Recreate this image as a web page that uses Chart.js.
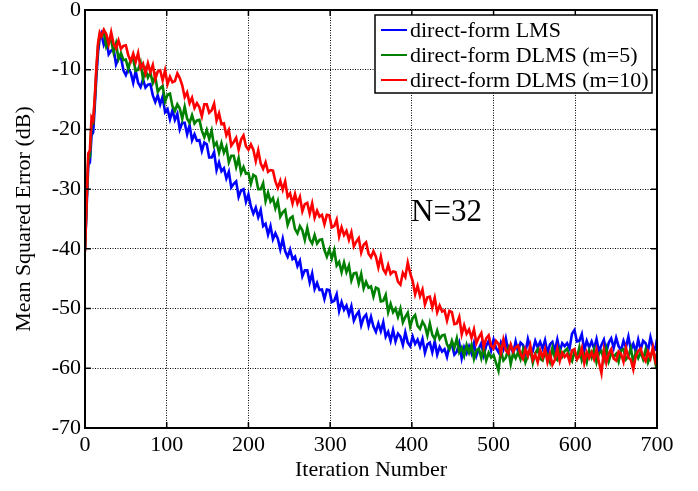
<!DOCTYPE html>
<html><head><meta charset="utf-8">
<script src="https://cdn.jsdelivr.net/npm/chart.js@4.4.0/dist/chart.umd.min.js"></script>
<style>html,body{margin:0;padding:0;background:#fff;}canvas{display:block;}</style>
</head><body>
<canvas id="c" width="698" height="491"></canvas>
<script>
const iterations = [
  0,2,4,6,8,10,12,14,16,18,
  20,23,26,29,32,35,38,41,44,47,
  50,53,56,59,62,65,68,71,74,77,
  80,83,86,89,92,95,98,101,104,107,
  110,113,116,119,122,125,128,131,134,137,
  140,143,146,149,152,155,158,161,164,167,
  170,173,176,179,182,185,188,191,194,197,
  200,203,206,209,212,215,218,221,224,227,
  230,233,236,239,242,245,248,251,254,257,
  260,263,266,269,272,275,278,281,284,287,
  290,293,296,299,302,305,308,311,314,317,
  320,323,326,329,332,335,338,341,344,347,
  350,353,356,359,362,365,368,371,374,377,
  380,383,386,389,392,395,398,401,404,407,
  410,413,416,419,422,425,428,431,434,437,
  440,443,446,449,452,455,458,461,464,467,
  470,473,476,479,482,485,488,491,494,497,
  500,503,506,509,512,515,518,521,524,527,
  530,533,536,539,542,545,548,551,554,557,
  560,563,566,569,572,575,578,581,584,587,
  590,593,596,599,602,605,608,611,614,617,
  620,623,626,629,632,635,638,641,644,647,
  650,653,656,659,662,665,668,671,674,677,
  680,683,686,689,692,695,698,700
];
const lmsMSE = [
  -40.0,-33.0,-26.0,-25.5,-21.0,-20.5,-16.0,-11.0,-7.0,-4.8,
  -4.0,-5.8,-4.7,-7.4,-6.8,-6.5,-9.1,-8.1,-7.9,-10.1,
  -10.9,-9.8,-10.5,-12.2,-10.2,-12.2,-12.9,-11.6,-13.0,-12.5,
  -12.4,-14.3,-15.4,-14.3,-15.8,-14.5,-17.1,-16.6,-18.3,-16.8,
  -18.4,-17.4,-20.0,-18.9,-18.9,-20.8,-19.3,-21.8,-20.8,-21.9,
  -21.8,-23.6,-22.2,-22.5,-24.7,-24.7,-23.8,-26.8,-25.5,-27.0,
  -26.5,-28.2,-27.1,-29.7,-29.1,-28.7,-31.3,-30.2,-30.0,-32.1,
  -30.9,-32.9,-34.1,-33.1,-34.7,-33.5,-36.2,-35.8,-37.6,-36.2,
  -38.4,-37.4,-38.3,-40.1,-38.3,-40.4,-41.3,-40.1,-41.7,-41.3,
  -42.9,-42.0,-44.6,-43.6,-43.6,-45.6,-44.1,-46.7,-45.7,-46.9,
  -46.8,-48.4,-46.8,-46.9,-48.9,-48.7,-47.6,-50.4,-48.9,-50.2,
  -49.5,-51.0,-49.6,-52.0,-51.1,-50.5,-52.8,-51.5,-51.0,-52.9,
  -51.4,-53.0,-53.9,-52.5,-53.8,-52.3,-54.7,-53.9,-55.4,-53.6,
  -55.5,-54.2,-54.7,-56.1,-54.0,-55.7,-56.3,-54.7,-55.9,-55.2,
  -56.4,-55.1,-57.4,-56.0,-55.7,-57.3,-55.5,-57.7,-56.4,-57.2,
  -56.8,-58.1,-56.2,-56.0,-57.7,-57.2,-55.8,-58.3,-56.5,-57.5,
  -56.3,-57.5,-55.8,-57.9,-56.7,-55.8,-57.8,-56.2,-55.4,-57.0,
  -55.2,-56.6,-57.3,-55.7,-56.8,-55.0,-57.2,-56.2,-57.5,-55.5,
  -57.2,-55.7,-56.1,-57.4,-55.1,-56.7,-57.1,-55.4,-56.5,-55.6,
  -56.7,-55.3,-57.5,-56.0,-55.6,-57.1,-55.2,-57.2,-55.8,-56.3,
  -55.8,-56.7,-54.2,-53.6,-55.5,-55.4,-54.3,-57.0,-55.4,-56.5,
  -55.5,-56.7,-55.1,-57.2,-56.1,-55.2,-57.3,-55.7,-55.0,-56.6,
  -54.9,-56.3,-57.0,-55.4,-56.5,-54.7,-56.9,-55.9,-57.2,-55.2,
  -56.9,-55.4,-55.8,-57.1,-54.8,-56.4,-56.8,-55.1
];
const dlms5MSE = [
  -40.0,-32.0,-25.0,-24.5,-19.0,-19.0,-15.0,-10.0,-6.0,-4.2,
  -4.4,-3.6,-6.1,-5.1,-5.1,-7.1,-5.6,-8.2,-7.2,-8.4,
  -8.3,-9.9,-8.2,-8.3,-10.2,-10.0,-8.8,-11.6,-10.0,-11.3,
  -10.5,-12.2,-11.1,-13.7,-13.1,-12.7,-15.3,-14.2,-14.0,-16.1,
  -16.9,-15.8,-16.5,-18.2,-16.2,-18.2,-18.9,-17.6,-19.0,-18.5,
  -18.4,-20.2,-21.3,-20.1,-21.6,-20.2,-22.8,-22.2,-23.9,-22.3,
  -23.9,-22.9,-25.5,-24.4,-24.4,-26.3,-24.8,-27.3,-26.3,-27.4,
  -27.3,-29.1,-27.6,-27.9,-30.0,-30.0,-29.0,-32.0,-30.6,-32.1,
  -31.5,-33.2,-32.0,-34.6,-33.9,-33.5,-36.0,-34.9,-34.6,-36.7,
  -37.4,-36.2,-36.9,-38.5,-36.5,-38.4,-39.1,-37.7,-39.1,-38.5,
  -38.4,-40.2,-41.3,-40.1,-41.6,-40.2,-42.8,-42.2,-43.9,-42.3,
  -43.9,-42.8,-45.3,-44.1,-44.0,-45.8,-44.2,-46.6,-45.5,-46.5,
  -46.3,-48.0,-46.5,-46.7,-48.8,-48.7,-47.7,-50.6,-49.2,-50.6,
  -50.0,-51.4,-50.0,-52.3,-51.4,-50.7,-53.0,-51.6,-51.1,-52.9,
  -53.4,-52.2,-52.9,-54.5,-52.5,-54.4,-55.1,-53.7,-55.1,-54.5,
  -54.4,-56.0,-56.8,-55.4,-56.6,-55.0,-57.3,-56.5,-57.9,-56.1,
  -57.4,-56.1,-58.4,-57.0,-56.7,-58.3,-56.5,-58.7,-57.4,-58.2,
  -57.8,-59.1,-60.4,-57.0,-58.7,-58.2,-56.8,-59.3,-57.4,-58.3,
  -57.3,-58.5,-56.9,-59.0,-57.9,-57.0,-59.1,-57.5,-56.8,-58.4,
  -58.7,-57.2,-57.6,-58.9,-56.6,-58.2,-58.6,-56.9,-58.0,-57.1,
  -56.7,-58.1,-58.8,-57.2,-58.3,-56.5,-58.7,-57.7,-59.0,-57.0,
  -58.2,-56.8,-59.0,-57.5,-57.1,-58.6,-56.7,-58.8,-57.4,-58.1,
  -57.6,-58.9,-57.0,-56.8,-58.5,-58.0,-56.6,-59.1,-57.3,-58.3,
  -57.3,-58.5,-56.9,-59.0,-57.9,-57.0,-59.1,-57.5
];
const dlms10MSE = [
  -40.5,-32.0,-24.0,-23.5,-18.0,-18.5,-14.5,-9.5,-5.5,-3.8,
  -4.4,-3.3,-4.0,-5.7,-3.7,-5.7,-6.4,-5.1,-6.5,-6.0,
  -5.9,-7.6,-8.6,-7.3,-8.7,-7.2,-9.7,-9.0,-10.6,-8.9,
  -10.4,-9.2,-11.6,-10.3,-10.1,-11.8,-10.1,-12.4,-11.2,-12.1,
  -11.9,-10.6,-11.4,-12.6,-14.6,-13.8,-15.6,-14.7,-16.4,-15.6,
  -16.3,-17.8,-15.8,-15.8,-17.2,-16.8,-15.7,-18.5,-17.3,-19.1,
  -19.0,-21.0,-20.1,-22.7,-22.1,-21.4,-23.4,-21.7,-21.0,-22.8,
  -23.4,-22.5,-23.4,-25.3,-23.5,-25.7,-26.6,-25.5,-27.1,-26.8,
  -26.9,-28.7,-29.8,-28.6,-30.1,-28.7,-31.3,-30.7,-32.4,-30.8,
  -32.4,-31.3,-33.7,-32.5,-32.3,-34.1,-32.4,-34.8,-33.6,-34.6,
  -34.3,-35.9,-34.3,-34.4,-36.4,-36.2,-35.1,-37.9,-36.4,-37.7,
  -37.0,-38.5,-37.2,-39.6,-38.8,-38.2,-40.6,-39.3,-38.9,-40.8,
  -41.4,-40.4,-41.3,-43.1,-41.3,-43.4,-44.1,-42.7,-44.2,-43.8,
  -43.9,-45.5,-46.0,-44.0,-44.7,-42.3,-44.1,-45.4,-47.6,-46.2,
  -47.9,-46.8,-49.3,-48.1,-48.0,-49.8,-48.2,-50.6,-49.5,-50.5,
  -50.3,-52.0,-50.4,-50.6,-52.6,-52.5,-51.4,-54.3,-52.8,-54.2,
  -53.5,-54.9,-53.5,-55.8,-54.8,-54.1,-56.4,-55.0,-54.5,-56.2,
  -56.7,-55.4,-55.9,-57.4,-55.2,-57.0,-57.5,-56.0,-57.2,-56.5,
  -56.2,-57.6,-58.4,-56.8,-57.9,-56.2,-58.6,-57.7,-59.0,-57.0,
  -58.2,-56.8,-59.0,-57.5,-59.4,-58.6,-56.7,-58.8,-57.4,-58.1,
  -57.6,-58.9,-57.0,-56.8,-58.5,-58.0,-56.6,-59.1,-57.3,-58.3,
  -57.3,-58.5,-56.9,-59.0,-60.8,-57.0,-59.1,-57.5,-56.8,-58.4,
  -58.7,-57.2,-57.6,-58.9,-56.6,-58.2,-58.6,-60.2,-58.0,-57.1,
  -56.7,-58.1,-58.8,-57.2,-58.3,-56.5,-58.7,-57.7
];
const seriesLabels = ['direct-form LMS', 'direct-form DLMS (m=5)', 'direct-form DLMS (m=10)'];
const seriesColors = ['#0000ff', '#008000', '#ff0000'];
const xTickValues = [0, 100, 200, 300, 400, 500, 600, 700];
const yTickValues = [0, -10, -20, -30, -40, -50, -60, -70];
const xTitle = 'Iteration Number';
const yTitle = 'Mean Squared Error (dB)';
const noteText = 'N=32';
const notePos = {x: 399, y: -35.4};

const SERIF = "'Liberation Serif', 'Times New Roman', serif";
Chart.defaults.color = '#000';
Chart.defaults.font.family = SERIF;

const series = [lmsMSE, dlms5MSE, dlms10MSE];
const datasets = series.map((vals, i) => ({
  label: seriesLabels[i],
  data: iterations.map((it, k) => ({x: it, y: vals[k]})),
  borderColor: seriesColors[i],
  backgroundColor: seriesColors[i],
  borderWidth: 2.6,
  pointRadius: 0,
  tension: 0,
  fill: false,
  order: 3 - i
}));

const decorPlugin = {
  id: 'decor',
  afterDatasetsDraw(chart) {
    const {ctx, chartArea: a, scales: {x, y}} = chart;
    ctx.save();
    ctx.strokeStyle = '#000';
    ctx.lineWidth = 2;
    ctx.strokeRect(a.left, a.top, a.right - a.left, a.bottom - a.top);
    const t = 6;
    ctx.lineWidth = 1.5;
    ctx.beginPath();
    xTickValues.forEach(v => {
      const px = x.getPixelForValue(v);
      ctx.moveTo(px, a.bottom); ctx.lineTo(px, a.bottom - t);
      ctx.moveTo(px, a.top); ctx.lineTo(px, a.top + t);
    });
    yTickValues.forEach(v => {
      const py = y.getPixelForValue(v);
      ctx.moveTo(a.left, py); ctx.lineTo(a.left + t, py);
      ctx.moveTo(a.right, py); ctx.lineTo(a.right - t, py);
    });
    ctx.stroke();
    const bw = 277, bh = 78;
    const bx = a.right - 282, by = a.top + 5;
    ctx.fillStyle = '#fff';
    ctx.fillRect(bx, by, bw, bh);
    ctx.lineWidth = 1.5;
    ctx.strokeStyle = '#000';
    ctx.strokeRect(bx, by, bw, bh);
    ctx.font = '22px ' + SERIF;
    ctx.textBaseline = 'middle';
    ctx.textAlign = 'left';
    seriesLabels.forEach((lab, i) => {
      const ly = by + 15 + i * 25;
      ctx.strokeStyle = seriesColors[i];
      ctx.lineWidth = 2;
      ctx.beginPath();
      ctx.moveTo(bx + 6, ly); ctx.lineTo(bx + 32, ly);
      ctx.stroke();
      ctx.fillStyle = '#000';
      ctx.fillText(lab, bx + 35, ly + 1);
    });
    ctx.font = '31px ' + SERIF;
    ctx.textBaseline = 'alphabetic';
    ctx.fillStyle = '#000';
    ctx.fillText(noteText, x.getPixelForValue(notePos.x), y.getPixelForValue(notePos.y));
    ctx.restore();
  }
};

new Chart(document.getElementById('c'), {
  type: 'line',
  data: {datasets},
  options: {
    responsive: false,
    animation: false,
    events: [],
    layout: {padding: {left: 0, right: 41, top: 10, bottom: 0}},
    plugins: {legend: {display: false}, tooltip: {enabled: false}},
    scales: {
      x: {
        type: 'linear', min: 0, max: 700,
        afterBuildTicks: s => { s.ticks = xTickValues.map(v => ({value: v})); },
        afterFit: s => { s.height = 63; s.paddingLeft = 0; s.paddingRight = 0; },
        ticks: {autoSkip: false, maxRotation: 0, padding: 4, font: {size: 22, family: SERIF}, color: '#000'},
        grid: {color: '#000', lineWidth: 1, drawTicks: false},
        border: {display: false, dash: [1, 1.5]},
        title: {display: true, text: xTitle, font: {size: 22, family: SERIF}, color: '#000', padding: {top: 0, bottom: 8}}
      },
      y: {
        type: 'linear', min: -70, max: 0,
        afterBuildTicks: s => { s.ticks = yTickValues.map(v => ({value: v})); },
        afterFit: s => { s.width = 85; s.paddingTop = 0; s.paddingBottom = 0; },
        ticks: {autoSkip: false, padding: 4, font: {size: 22, family: SERIF}, color: '#000'},
        grid: {color: '#000', lineWidth: 1, drawTicks: false},
        border: {display: false, dash: [1, 1.5]},
        title: {display: true, text: yTitle, font: {size: 22, family: SERIF}, color: '#000', padding: {top: 11, bottom: 0}}
      }
    }
  },
  plugins: [decorPlugin]
});
</script>
</body></html>
